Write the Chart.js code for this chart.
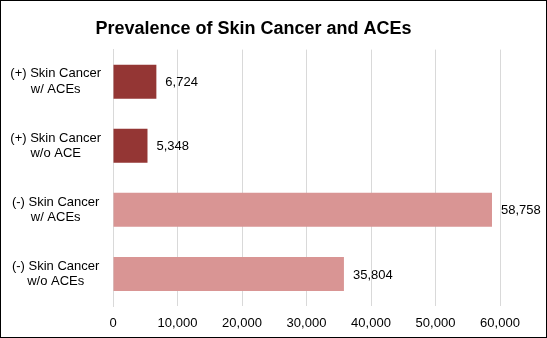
<!DOCTYPE html>
<html>
<head>
<meta charset="utf-8">
<script src="https://cdn.jsdelivr.net/npm/chart.js@4"></script>
<style>
  html,body{margin:0;padding:0;background:#fff;}
  #wrap{width:547px;height:338px;box-sizing:border-box;border:1px solid #000;position:relative;}
  canvas{display:block;}
</style>
</head>
<body>
<div id="wrap"><canvas id="c" width="545" height="336"></canvas></div>
<script>
// 데이터
const categories=[
  ['(+) Skin Cancer','w/ ACEs'],
  ['(+) Skin Cancer','w/o ACE'],
  ['(-) Skin Cancer','w/ ACEs'],
  ['(-) Skin Cancer','w/o ACEs']
];
const counts=[6724,5348,58758,35804];
const barColors=['#943634','#943634','#d99594','#d99594'];
const xTicks=[0,10000,20000,30000,40000,50000,60000];

const fmtNum=v=>v.toLocaleString('en-US');

// 막대 끝 값 라벨
const valueLabels={
  id:'valueLabels',
  afterDatasetsDraw(chart){
    const ctx=chart.ctx;
    const meta=chart.getDatasetMeta(0);
    ctx.save();
    ctx.font='13px "Liberation Sans", Arial, sans-serif';
    ctx.fillStyle='#000';
    ctx.textAlign='left'; ctx.textBaseline='middle';
    meta.data.forEach((el,i)=>{
      ctx.fillText(fmtNum(counts[i]),el.x+9,el.y+1);
    });
    ctx.restore();
  }
};

Chart.defaults.font.family='"Liberation Sans", Arial, sans-serif';
Chart.defaults.color='#000';

new Chart(document.getElementById('c'),{
  type:'bar',
  data:{labels:categories,datasets:[{
    data:counts,backgroundColor:barColors,borderWidth:0,
    categoryPercentage:0.53,barPercentage:1
  }]},
  options:{
    indexAxis:'y',responsive:false,animation:false,
    layout:{padding:{left:6,right:46,top:6,bottom:0}},
    plugins:{
      legend:{display:false},tooltip:{enabled:false},
      title:{display:true,text:'Prevalence of Skin Cancer and ACEs',
        font:{size:18,weight:'bold'},color:'#000',padding:{top:11,bottom:10}}
    },
    scales:{
      x:{min:0,max:60000,
        afterBuildTicks:ax=>{ax.ticks=xTicks.map(v=>({value:v}));},
        afterFit:ax=>{ax.height=31;},
        ticks:{font:{size:13},padding:10,callback:v=>fmtNum(v)},
        grid:{color:'#d9d9d9',lineWidth:1,drawTicks:false},
        border:{display:false}},
      y:{
        afterFit:ax=>{ax.width=106;},
        ticks:{font:{size:13},crossAlign:'center',padding:4},
        grid:{display:false},
        border:{display:true,color:'#d9d9d9'}}
    }
  },
  plugins:[valueLabels]
});
</script>
</body>
</html>
